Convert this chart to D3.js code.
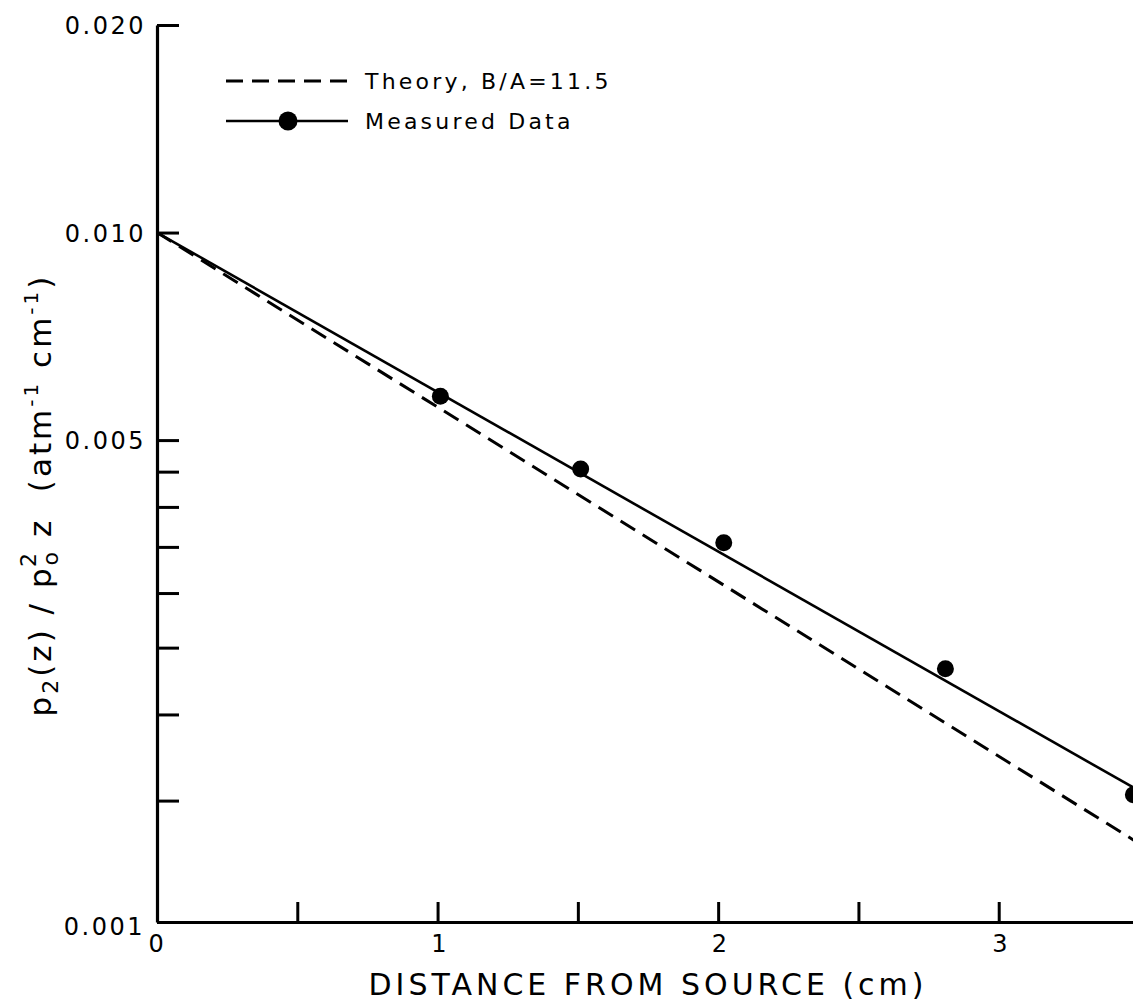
<!DOCTYPE html>
<html>
<head>
<meta charset="utf-8">
<script src="https://cdn.jsdelivr.net/npm/d3@7"></script>
<style>
  html, body { margin: 0; padding: 0; background: #fff; }
  svg { display: block; }
  text { font-family: "DejaVu Sans", sans-serif; fill: #000; }
</style>
</head>
<body>
<svg id="chart" width="1133" height="1002"></svg>
<script>
// ---- data ----
const measuredX = [1.01, 1.51, 2.02, 2.81, 3.48];
const measuredY = [0.00579, 0.00454, 0.00355, 0.00233, 0.00153];
const fitX = [0, 3.5];
const fitY = [0.0100, 0.00155];
const theoryX = [0, 3.5];
const theoryY = [0.0100, 0.00130];
const yTickValues = [0.020, 0.010, 0.005, 0.0045, 0.004, 0.0035, 0.003, 0.0025, 0.002, 0.0015, 0.001];
const yTickLabels = ["0.020", "0.010", "0.005", "", "", "", "", "", "", "", "0.001"];
const xTickValues = [0, 0.5, 1, 1.5, 2, 2.5, 3];
const xTickLabels = ["0", "", "1", "", "2", "", "3"];
const legendLabels = ["Theory, B/A=11.5", "Measured Data"];
const xTitle = "DISTANCE FROM SOURCE (cm)";

// ---- layout ----
const svg = d3.select("#chart");
const x = d3.scaleLinear().domain([0, 3.5]).range([157, 1139]);
const y = d3.scaleLog().domain([0.001, 0.02]).range([922, 25]);

const line = d3.line().x(d => x(d[0])).y(d => y(d[1]));

// axes
const yAxis = d3.axisLeft(y)
  .tickValues(yTickValues)
  .tickFormat((d, i) => yTickLabels[i])
  .tickSizeInner(-22).tickSizeOuter(0).tickPadding(11);
const gy = svg.append("g").attr("transform", `translate(${x(0)},0)`).call(yAxis);

const xAxis = d3.axisBottom(x)
  .tickValues(xTickValues)
  .tickFormat((d, i) => xTickLabels[i])
  .tickSizeInner(-20).tickSizeOuter(0).tickPadding(13);
const gx = svg.append("g").attr("transform", `translate(0,${y(0.001)})`).call(xAxis);

[gx, gy].forEach(g => {
  g.select(".domain").attr("stroke", "#000").attr("stroke-width", 3.2);
  g.selectAll(".tick line").attr("stroke", "#000").attr("stroke-width", 3);
  g.selectAll(".tick text").style("font-family", '"DejaVu Sans", sans-serif')
    .style("font-size", "24px").style("letter-spacing", "2.5px").attr("fill", "#000");
});
gy.selectAll(".tick text").attr("dy", "0.36em");
gx.selectAll(".tick text").attr("dx", d => d === 0 ? "0" : "2");
gy.selectAll(".tick text").filter(d => d === 0.001).attr("dy", "0.5em").attr("x", -12);

// lines
const theoryData = theoryX.map((v, i) => [v, theoryY[i]]);
const fitData = fitX.map((v, i) => [v, fitY[i]]);
const measData = measuredX.map((v, i) => [v, measuredY[i]]);

svg.append("path").datum(theoryData).attr("d", line)
  .attr("fill", "none").attr("stroke", "#000").attr("stroke-width", 3)
  .attr("stroke-dasharray", "17 9");
svg.append("path").datum(fitData).attr("d", line)
  .attr("fill", "none").attr("stroke", "#000").attr("stroke-width", 2.6);
svg.selectAll("circle.pt").data(measData).enter().append("circle")
  .attr("class", "pt")
  .attr("cx", d => x(d[0])).attr("cy", d => y(d[1])).attr("r", 8.5)
  .attr("fill", "#000");

// legend
const lg = svg.append("g");
lg.append("line").attr("x1", 226).attr("x2", 348).attr("y1", 81).attr("y2", 81)
  .attr("stroke", "#000").attr("stroke-width", 3).attr("stroke-dasharray", "17 9");
lg.append("text").attr("x", 365).attr("y", 81).attr("dy", "0.36em")
  .style("font-size", "22px").style("letter-spacing", "3.2px").text(legendLabels[0]);
lg.append("line").attr("x1", 226).attr("x2", 348).attr("y1", 121).attr("y2", 121)
  .attr("stroke", "#000").attr("stroke-width", 2.6);
lg.append("circle").attr("cx", 288).attr("cy", 121).attr("r", 9.5).attr("fill", "#000");
lg.append("text").attr("x", 365).attr("y", 121).attr("dy", "0.36em")
  .style("font-size", "22px").style("letter-spacing", "3.2px").text(legendLabels[1]);

// x title
svg.append("text").attr("x", 648).attr("y", 995)
  .attr("text-anchor", "middle").style("font-size", "30px").style("letter-spacing", "4px")
  .text(xTitle);

// y title (rotated)
const yt = svg.append("text")
  .attr("transform", "translate(51,495) rotate(-90)")
  .attr("text-anchor", "middle")
  .style("font-size", "31px").style("letter-spacing", "3px");
yt.append("tspan").text("p");
yt.append("tspan").attr("dy", 7).style("font-size", "22px").text("2");
yt.append("tspan").attr("dy", -7).text("(z) / p");
yt.append("tspan").attr("dy", 7).style("font-size", "22px").text("o");
yt.append("tspan").attr("dx", -18).attr("dy", -22).style("font-size", "22px").text("2");
yt.append("tspan").attr("dy", 15).text(" z\u00a0\u00a0(atm");
yt.append("tspan").attr("dy", -13).style("font-size", "20px").text("-1");
yt.append("tspan").attr("dy", 13).text(" cm");
yt.append("tspan").attr("dy", -13).style("font-size", "20px").text("-1");
yt.append("tspan").attr("dy", 13).text(")");
</script>
</body>
</html>
